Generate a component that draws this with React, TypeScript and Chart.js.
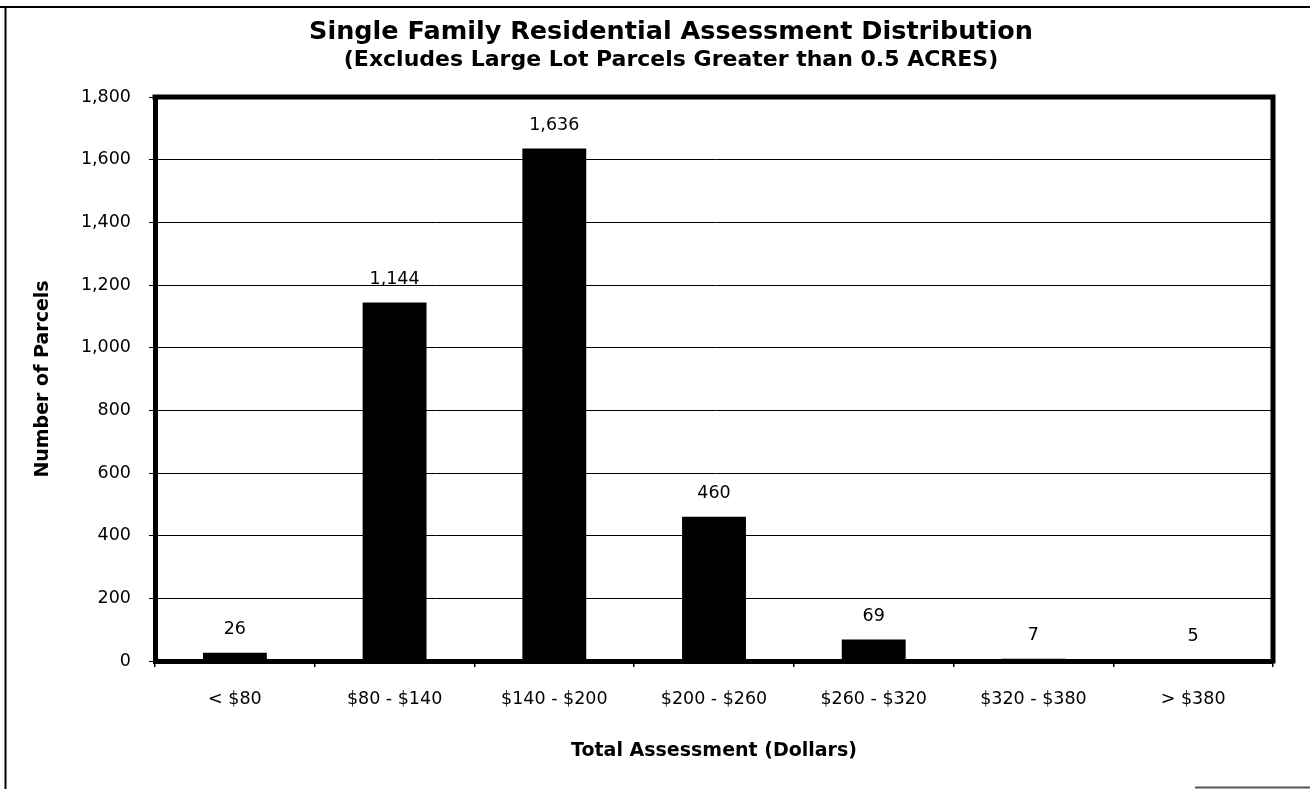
import React, { useEffect, useRef } from 'react';
import { Chart, registerables } from 'chart.js';

Chart.register(...registerables);

const categories = ['< $80', '$80 - $140', '$140 - $200', '$200 - $260', '$260 - $320', '$320 - $380', '> $380'];
const parcelCounts = [26, 1144, 1636, 460, 69, 7, 5];
const yMin = 0;
const yMax = 1800;
const yStep = 200;
const titleText = 'Single Family Residential Assessment Distribution';
const subtitleText = '(Excludes Large Lot Parcels Greater than 0.5 ACRES)';
const xTitleText = 'Total Assessment (Dollars)';
const yTitleText = 'Number of Parcels';

const FAMILY = '"DejaVu Sans", "Liberation Sans", Arial, sans-serif';
const BLACK = '#000000';

const framePlugin = {
  id: 'frame',
  beforeDraw(chart: any) {
    const { ctx, width, height } = chart;
    ctx.save();
    ctx.fillStyle = '#ffffff';
    ctx.fillRect(0, 0, width, height);
    ctx.strokeStyle = BLACK;
    ctx.lineWidth = 2;
    ctx.beginPath();
    ctx.moveTo(0, 7);
    ctx.lineTo(width, 7);
    ctx.moveTo(5.5, 7);
    ctx.lineTo(5.5, height);
    ctx.stroke();
    ctx.strokeStyle = '#555555';
    ctx.lineWidth = 2;
    ctx.beginPath();
    ctx.moveTo(1195, 787.5);
    ctx.lineTo(width, 787.5);
    ctx.stroke();
    ctx.restore();
  },
  afterDraw(chart: any) {
    const { ctx, chartArea } = chart;
    ctx.save();
    ctx.strokeStyle = BLACK;
    ctx.lineWidth = 5;
    ctx.beginPath();
    ctx.moveTo(chartArea.left - 2.5, chartArea.top);
    ctx.lineTo(chartArea.right, chartArea.top);
    ctx.lineTo(chartArea.right, chartArea.bottom + 2.5);
    ctx.stroke();
    ctx.restore();
  },
};

const dataLabelPlugin = {
  id: 'barValueLabels',
  afterDatasetsDraw(chart: any) {
    const ctx = chart.ctx;
    const meta = chart.getDatasetMeta(0);
    ctx.save();
    ctx.font = `17.5px ${FAMILY}`;
    ctx.fillStyle = BLACK;
    ctx.textAlign = 'center';
    ctx.textBaseline = 'middle';
    meta.data.forEach((el: any, i: number) => {
      const v = chart.data.datasets[0].data[i] as number;
      ctx.fillText(v.toLocaleString('en-US'), el.x, el.y - 23);
    });
    ctx.restore();
  },
};

export default function App() {
  const canvasRef = useRef<HTMLCanvasElement | null>(null);

  useEffect(() => {
    if (!canvasRef.current) return;
    const chart = new Chart(canvasRef.current, {
      type: 'bar',
      data: {
        labels: categories,
        datasets: [
          {
            data: parcelCounts,
            backgroundColor: BLACK,
            borderWidth: 0,
            categoryPercentage: 1,
            barPercentage: 0.4,
          },
        ],
      },
      options: {
        responsive: false,
        animation: false,
        locale: 'en-US',
        layout: { padding: { left: 69, right: 37, top: 0, bottom: 0 } },
        plugins: {
          legend: { display: false },
          tooltip: { enabled: false },
          title: {
            display: true,
            text: titleText,
            color: BLACK,
            font: { family: FAMILY, size: 25.5, weight: 'bold' },
            padding: { top: 16.7, bottom: 0 },
          },
          subtitle: {
            display: true,
            text: subtitleText,
            color: BLACK,
            font: { family: FAMILY, size: 22, weight: 'bold' },
            padding: { top: 0, bottom: 23.3 },
          },
        },
        scales: {
          x: {
            grid: {
              display: true,
              drawOnChartArea: false,
              drawTicks: true,
              tickLength: 6,
              color: BLACK,
              lineWidth: 1.5,
              offset: true,
            },
            border: { display: true, color: BLACK, width: 5 },
            ticks: {
              color: BLACK,
              font: { family: FAMILY, size: 17.5 },
              padding: 22,
              maxRotation: 0,
              autoSkip: false,
            },
            title: {
              display: true,
              text: xTitleText,
              color: BLACK,
              font: { family: FAMILY, size: 19, weight: 'bold' },
              padding: { top: 0, bottom: 27 },
            },
            afterFit: (s: any) => {
              s.height = 128;
            },
          },
          y: {
            min: yMin,
            max: yMax,
            ticks: {
              stepSize: yStep,
              color: BLACK,
              font: { family: FAMILY, size: 17.5 },
              padding: 18,
            },
            grid: { color: BLACK, lineWidth: 1, tickLength: 6, drawTicks: true },
            border: { display: true, color: BLACK, width: 5 },
            title: {
              display: true,
              text: yTitleText,
              color: BLACK,
              font: { family: FAMILY, size: 19, weight: 'bold' },
              padding: { top: -37.4, bottom: 0 },
            },
            afterFit: (s: any) => {
              s.width = 86;
            },
          },
        },
      },
      plugins: [framePlugin, dataLabelPlugin],
    } as any);
    return () => chart.destroy();
  }, []);

  return (
    <div style={{ position: 'fixed', left: 0, top: 0, width: 1310, height: 789, background: '#fff' }}>
      <canvas ref={canvasRef} width={1310} height={789} style={{ display: 'block' }} />
    </div>
  );
}
